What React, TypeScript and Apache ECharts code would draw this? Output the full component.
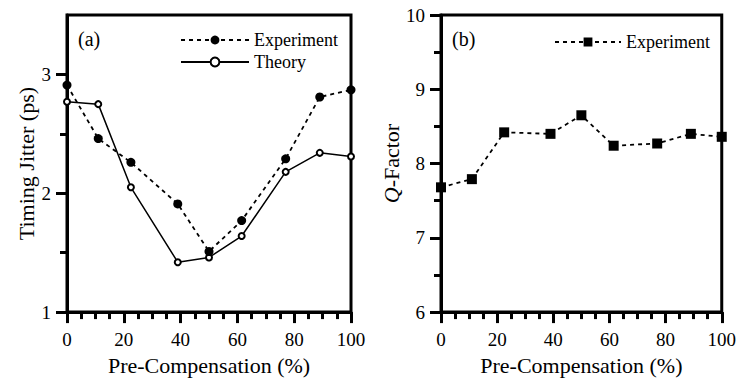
import React, { useEffect, useRef } from "react";
import * as echarts from "echarts";

// Pre-compensation positions (%) of the measured points
const precomp = [0, 11, 22.5, 39, 50, 61.5, 77, 89, 100];
// Panel (a): timing jitter (ps)
const jitterExperiment = [2.91, 2.46, 2.26, 1.91, 1.51, 1.77, 2.29, 2.81, 2.87];
const jitterTheory = [2.77, 2.75, 2.05, 1.42, 1.46, 1.64, 2.18, 2.34, 2.31];
// Panel (b): Q-factor
const qExperiment = [7.68, 7.79, 8.42, 8.4, 8.65, 8.24, 8.27, 8.4, 8.36];
// Tick values
const jitterMajorTicks = [1, 2, 3];
const jitterMinorTicks = [1.5, 2.5];

const FONT = "'Liberation Serif', 'Times New Roman', serif";
const INK = "#000";

const zip = (xs: number[], ys: number[]) => xs.map((x, i) => [x, ys[i]]);

export default function App() {
  const ref = useRef<HTMLDivElement>(null);

  useEffect(() => {
    if (!ref.current) return;
    const chart = echarts.init(ref.current, undefined, { renderer: "svg" });

    const xAxisBase = (gridIndex: number) => ({
      type: "value",
      gridIndex,
      min: 0,
      max: 100,
      interval: 20,
      axisLine: { show: true, onZero: false, lineStyle: { color: INK, width: 3 } },
      axisTick: { show: true, inside: false, length: 11, lineStyle: { color: INK, width: 3 } },
      minorTick: { show: true, splitNumber: 4, length: 7, lineStyle: { color: INK, width: 3 } },
      splitLine: { show: false },
      axisLabel: { color: INK, fontFamily: FONT, fontSize: 19, margin: 18 },
      name: "Pre-Compensation (%)",
      nameLocation: "middle",
      nameGap: 38,
      nameTextStyle: { color: INK, fontFamily: FONT, fontSize: 22 },
    });

    const option: any = {
      animation: false,
      backgroundColor: "#fff",
      grid: [
        { left: 67, top: 15, width: 284, height: 298, show: true, borderColor: INK, borderWidth: 3, backgroundColor: "transparent" },
        { left: 441, top: 15, width: 284, height: 298, show: true, borderColor: INK, borderWidth: 3, backgroundColor: "transparent" },
      ],
      xAxis: [xAxisBase(0), xAxisBase(1)],
      yAxis: [
        {
          type: "value",
          gridIndex: 0,
          position: "left",
          min: 1,
          max: 3.5,
          axisLine: { show: true, onZero: false, lineStyle: { color: INK, width: 3 } },
          axisTick: { show: true, customValues: jitterMajorTicks, length: 11, lineStyle: { color: INK, width: 3 } },
          axisLabel: { customValues: jitterMajorTicks, color: INK, fontFamily: FONT, fontSize: 19, margin: 16 },
          splitLine: { show: false },
          name: "Timing Jitter (ps)",
          nameLocation: "middle",
          nameGap: 30,
          nameTextStyle: { color: INK, fontFamily: FONT, fontSize: 22 },
        },
        {
          type: "value",
          gridIndex: 0,
          position: "left",
          offset: 0,
          min: 1,
          max: 3.5,
          axisLine: { show: false },
          axisTick: { show: true, customValues: jitterMinorTicks, length: 7, lineStyle: { color: INK, width: 3 } },
          axisLabel: { show: false },
          splitLine: { show: false },
        },
        {
          type: "value",
          gridIndex: 1,
          position: "left",
          min: 6,
          max: 10,
          interval: 1,
          axisLine: { show: true, onZero: false, lineStyle: { color: INK, width: 3 } },
          axisTick: { show: true, length: 11, lineStyle: { color: INK, width: 3 } },
          minorTick: { show: true, splitNumber: 2, length: 7, lineStyle: { color: INK, width: 3 } },
          axisLabel: { color: INK, fontFamily: FONT, fontSize: 19, margin: 16 },
          splitLine: { show: false },
          name: "{i|Q}-Factor",
          nameLocation: "middle",
          nameGap: 33,
          nameTextStyle: {
            color: INK,
            fontFamily: FONT,
            fontSize: 22,
            rich: { i: { fontStyle: "italic", fontFamily: FONT, fontSize: 22, color: INK } },
          },
        },
      ],
      legend: [
        {
          data: ["Experiment", "Theory"],
          orient: "vertical",
          left: 180,
          top: 30,
          itemWidth: 68,
          itemHeight: 11,
          itemGap: 2,
          padding: 0,
          textStyle: { color: INK, fontFamily: FONT, fontSize: 18, lineHeight: 20 },
          selectedMode: false,
        },
        {
          data: ["Experiment b"],
          formatter: () => "Experiment",
          orient: "vertical",
          left: 554,
          top: 32,
          itemWidth: 66,
          itemHeight: 11,
          padding: 0,
          textStyle: { color: INK, fontFamily: FONT, fontSize: 18, lineHeight: 20 },
          selectedMode: false,
        },
      ],
      graphic: [
        { type: "text", left: 78, top: 29, style: { text: "(a)", fill: INK, font: `20px ${FONT}` } },
        { type: "text", left: 452, top: 29, style: { text: "(b)", fill: INK, font: `20px ${FONT}` } },
      ],
      series: [
        {
          name: "Experiment",
          type: "line",
          xAxisIndex: 0,
          yAxisIndex: 0,
          data: zip(precomp, jitterExperiment),
          symbol: "circle",
          symbolSize: 9,
          lineStyle: { color: INK, width: 1.8, type: [4, 4] },
          itemStyle: { color: INK },
          z: 3,
        },
        {
          name: "Theory",
          type: "line",
          xAxisIndex: 0,
          yAxisIndex: 0,
          data: zip(precomp, jitterTheory),
          symbol: "emptyCircle",
          symbolSize: 6,
          lineStyle: { color: INK, width: 1.5, type: "solid" },
          itemStyle: { color: INK, borderWidth: 1.5 },
          z: 2,
        },
        {
          name: "Experiment b",
          type: "line",
          xAxisIndex: 1,
          yAxisIndex: 2,
          data: zip(precomp, qExperiment),
          symbol: "rect",
          symbolSize: 10,
          lineStyle: { color: INK, width: 1.8, type: [4, 4] },
          itemStyle: { color: INK },
        },
      ],
    };

    chart.setOption(option);
    return () => chart.dispose();
  }, []);

  return (
    <div
      ref={ref}
      style={{ position: "fixed", left: 0, top: 0, width: 739, height: 381, background: "#fff" }}
    />
  );
}
